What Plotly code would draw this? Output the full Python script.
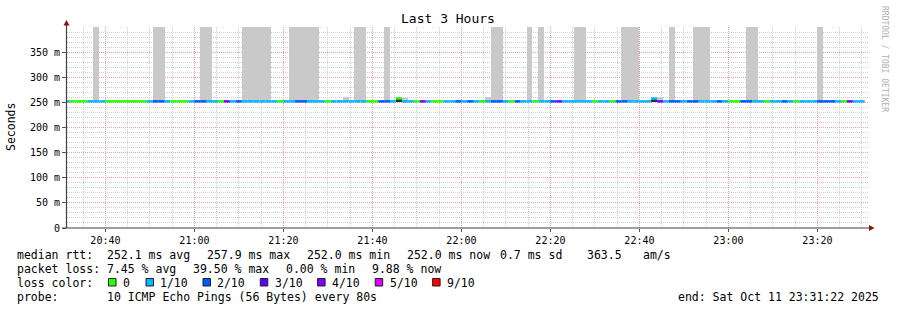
import pandas as pd
import plotly.graph_objects as go

N = None
# ---------------- data ----------------
step_start = "2025-10-11 20:30:38"   # start of first (partially visible) 80 s step
step_len_s = 80
range_start = "2025-10-11 20:31:22"
range_end = "2025-10-11 23:31:22"

# lost pings (of 10) per 80 s step
loss = [
    1, 0, 0, 0, 1, 1, 1, 0, 0, 0,
    0, 0, 0, 0, 1, 2, 2, 1, 0, 0,
    0, 1, 2, 2, 1, 1, 0, 4, 1, 2,
    1, 1, 1, 1, 1, 1, 0, 1, 1, 2,
    2, 1, 1, 1, 0, 1, 1, 1, 1, 1,
    1, 0, 0, 2, 2, 1, 0, 1, 1, 0,
    4, 1, 0, 0, 1, 1, 2, 1, 2, 1,
    0, 1, 2, 2, 1, 0, 2, 1, 1, 0,
    1, 1, 2, 4, 1, 1, 1, 1, 1, 0,
    1, 1, 0, 2, 2, 1, 1, 1, 1, 1,
    4, 1, 2, 2, 1, 2, 2, 1, 1, 1,
    2, 1, 0, 0, 2, 2, 1, 1, 0, 1,
    1, 2, 1, 0, 1, 1, 1, 2, 2, 2,
    1, 0, 4, 1, 1,
]

# median rtt per step (ms)
median_ms = [
    252.0, 252.0, 252.0, 252.0, 252.0, 252.0, 252.0, 252.0, 252.0, 252.0,
    252.0, 252.0, 252.0, 252.0, 252.0, 252.0, 252.0, 252.0, 252.0, 252.0,
    252.0, 252.0, 252.0, 252.0, 252.0, 252.0, 252.0, 252.0, 252.0, 252.0,
    252.0, 252.0, 252.0, 252.0, 252.0, 252.0, 252.0, 252.0, 252.0, 252.0,
    252.0, 252.0, 252.0, 252.0, 252.0, 252.0, 252.0, 252.0, 252.0, 252.0,
    252.0, 252.0, 252.0, 252.0, 252.0, 252.0, 257.9, 252.0, 252.0, 252.0,
    252.0, 252.0, 252.0, 252.0, 252.0, 252.0, 252.0, 252.0, 252.0, 252.0,
    252.0, 252.0, 252.0, 252.0, 252.0, 252.0, 252.0, 252.0, 252.0, 252.0,
    252.0, 252.0, 252.0, 252.0, 252.0, 252.0, 252.0, 252.0, 252.0, 252.0,
    252.0, 252.0, 252.0, 252.0, 252.0, 252.0, 252.0, 252.0, 252.0, 257.6,
    252.0, 252.0, 252.0, 252.0, 252.0, 252.0, 252.0, 252.0, 252.0, 252.0,
    252.0, 252.0, 252.0, 252.0, 252.0, 252.0, 252.0, 252.0, 252.0, 252.0,
    252.0, 252.0, 252.0, 252.0, 252.0, 252.0, 252.0, 252.0, 252.0, 252.0,
    252.0, 252.0, 252.0, 252.0, 252.0,
]

# highest ping of each step (ms), "smoke" top; None = no visible smoke
smoke_hi_ms = [
    N, N, N, N, N, 430, N, N, N, N,
    N, N, N, N, N, 430, 430, N, N, N,
    N, N, N, 430, 430, N, N, N, N, N,
    430, 430, 430, 430, 430, N, N, N, 430, 430,
    430, 430, 430, N, N, N, N, 260, N, 430,
    430, N, N, N, 430, N, N, 258, N, N,
    N, N, N, N, N, N, N, N, N, N,
    N, 260, 430, 430, N, N, N, N, 430, N,
    430, N, N, N, N, N, 430, 430, N, N,
    N, N, N, N, 430, 430, 430, N, N, N,
    260, N, 430, N, N, N, 430, 430, 430, N,
    N, N, N, N, N, 430, 430, N, N, N,
    N, N, N, N, N, N, N, 430, N, N,
    N, N, N, N, N,
]
# dense smoke (many pings) below the two median spikes
dense_hi_ms = [
    N, N, N, N, N, N, N, N, N, N,
    N, N, N, N, N, N, N, N, N, N,
    N, N, N, N, N, N, N, N, N, N,
    N, N, N, N, N, N, N, N, N, N,
    N, N, N, N, N, N, N, N, N, N,
    N, N, N, N, N, N, 256, N, N, N,
    N, N, N, N, N, N, N, N, N, N,
    N, N, N, N, N, N, N, N, N, N,
    N, N, N, N, N, N, N, N, N, N,
    N, N, N, N, N, N, N, N, N, 256,
    N, N, N, N, N, N, N, N, N, N,
    N, N, N, N, N, N, N, N, N, N,
    N, N, N, N, N, N, N, N, N, N,
    N, N, N, N, N,
]
ping_min_ms = 251.5

loss_counts = [0, 1, 2, 3, 4, 5, 9]
loss_labels = ["0", "1/10", "2/10", "3/10", "4/10", "5/10", "9/10"]
loss_colors = ["#26ff00", "#00b8ff", "#0059ff", "#5e00ff", "#7e00ff", "#dd00ff", "#ff0000"]

y_tick_vals = [0, 50, 100, 150, 200, 250, 300, 350]
y_tick_text = ["0", "50 m", "100 m", "150 m", "200 m", "250 m", "300 m", "350 m"]
x_tick0 = "2025-10-11 20:40"

title_text = "Last 3 Hours"
y_title = "Seconds"
watermark = "RRDTOOL / TOBI OETIKER"
rtt_label = "median rtt:"
rtt_stats = ["252.1 ms avg", "257.9 ms max", "252.0 ms min", "252.0 ms now",
             "0.7 ms sd", "363.5", "am/s"]
loss_label = "packet loss:"
loss_stats = ["7.45 % avg", "39.50 % max", "0.00 % min", "9.88 % now"]
color_label = "loss color:"
probe_label = "probe:"
probe_text = "10 ICMP Echo Pings (56 Bytes) every 80s"
end_text = "end: Sat Oct 11 23:31:22 2025"

# ---------------- geometry ----------------
W, H = 897, 310
ML, MR, MT, MB = 67, 29, 27, 82
PW, PH = W - ML - MR, H - MT - MB
BOTTOM = H - MB

def ax(px):
    return (px - ML) / PW

def ay(py):
    return (BOTTOM - py) / PH

MONO = "DejaVu Sans Mono"

times = pd.date_range(step_start, periods=len(loss), freq=f"{step_len_s}s")
step_td = pd.Timedelta(seconds=step_len_s)

fig = go.Figure()

# smoke
fig.add_trace(go.Bar(
    x=list(times.to_pydatetime()),
    y=[(h - m) if h is not None else None for h, m in zip(smoke_hi_ms, median_ms)],
    base=median_ms, offset=0, width=step_len_s * 1000,
    marker=dict(color="#c9c9c9", line=dict(width=0)), hoverinfo="skip"))
fig.add_trace(go.Bar(
    x=list(times.to_pydatetime()),
    y=[(h - ping_min_ms) if h is not None else None for h in dense_hi_ms],
    base=ping_min_ms, offset=0, width=step_len_s * 1000,
    marker=dict(color="#303030", line=dict(width=0)), hoverinfo="skip"))

# median line coloured by loss
for cnt, col in zip(loss_counts, loss_colors):
    xs, ys = [], []
    for t, l, m in zip(times, loss, median_ms):
        if l == cnt:
            xs += [t.to_pydatetime(), (t + step_td).to_pydatetime(), None]
            ys += [m, m, None]
    if xs:
        fig.add_trace(go.Scatter(x=xs, y=ys, mode="lines",
                                 line=dict(color=col, width=2.5),
                                 hoverinfo="skip"))

GRID_MINOR = "#cfcfcf"
GRID_MAJOR = "#f0a0a0"
DASH = "1px,1px"

fig.update_layout(
    width=W, height=H,
    margin=dict(l=ML, r=MR, t=MT, b=MB, autoexpand=False),
    paper_bgcolor="white", plot_bgcolor="white",
    showlegend=False, barmode="overlay", bargap=0,
    font=dict(family=MONO, size=10, color="#000"),
    xaxis=dict(
        type="date", range=[range_start, range_end],
        tick0=x_tick0, dtick=20 * 60 * 1000, tickformat="%H:%M",
        showgrid=True, gridcolor=GRID_MAJOR, griddash=DASH, gridwidth=1,
        ticks="outside", ticklen=3, tickcolor="#555",
        tickfont=dict(family=MONO, size=10, color="#000"),
        showline=False, zeroline=False,
        minor=dict(tick0=x_tick0, dtick=5 * 60 * 1000, showgrid=True,
                   gridcolor=GRID_MINOR, griddash=DASH, ticks=""),
    ),
    yaxis=dict(
        range=[0, 400], tickvals=y_tick_vals, ticktext=y_tick_text,
        showgrid=True, gridcolor=GRID_MAJOR, griddash=DASH, gridwidth=1,
        ticks="outside", ticklen=4, tickcolor="#555",
        tickfont=dict(family=MONO, size=10, color="#000"),
        showline=False, zeroline=False,
        minor=dict(tick0=0, dtick=10, showgrid=True,
                   gridcolor=GRID_MINOR, griddash=DASH, ticks=""),
    ),
)

shapes = []
AXIS_C = "#404040"
ARROW_C = "#8b1010"
shapes.append(dict(type="line", xref="paper", yref="paper",
                   x0=ax(66.5), x1=ax(66.5), y0=ay(228), y1=ay(24),
                   line=dict(color=AXIS_C, width=1.2)))
shapes.append(dict(type="line", xref="paper", yref="paper",
                   x0=ax(62), x1=ax(870), y0=ay(228), y1=ay(228),
                   line=dict(color=AXIS_C, width=1.2)))
shapes.append(dict(type="path", xref="paper", yref="paper",
                   path=f"M {ax(66.5)},{ay(20)} L {ax(63.5)},{ay(25.5)} L {ax(69.5)},{ay(25.5)} Z",
                   fillcolor=ARROW_C, line=dict(width=0)))
shapes.append(dict(type="path", xref="paper", yref="paper",
                   path=f"M {ax(874.5)},{ay(228)} L {ax(869)},{ay(225)} L {ax(869)},{ay(231)} Z",
                   fillcolor=ARROW_C, line=dict(width=0)))

ann = []

def text(px, py, s, size=11.5, anchor="left", color="#000", angle=0):
    ann.append(dict(xref="paper", yref="paper", x=ax(px), y=ay(py), text=s,
                    showarrow=False, xanchor=anchor, yanchor="middle",
                    textangle=angle, borderpad=0, borderwidth=0,
                    font=dict(family=MONO, size=size, color=color)))

text(448, 19, title_text, size=13, anchor="center")
text(11, 127, y_title, size=11.5, anchor="center", angle=-90)
text(885, 59, watermark, size=8, anchor="center", color="#b0b0b0", angle=90)

L1, L2, L3, L4 = 254.5, 268.5, 282.5, 296.5
text(16.5, L1, rtt_label)
for px, s in zip([107, 207, 307, 407, 500, 586.5, 642.5], rtt_stats):
    text(px, L1, s)
text(16.5, L2, loss_label)
for px, s in zip([107, 193, 286, 371.5], loss_stats):
    text(px, L2, s)
text(16.5, L3, color_label)
sq_x = [108.5, 146, 203, 260.3, 317.6, 375.2, 432.6]
for px, lab, col in zip(sq_x, loss_labels, loss_colors):
    shapes.append(dict(type="rect", xref="paper", yref="paper",
                       x0=ax(px), x1=ax(px + 7.5), y0=ay(286), y1=ay(278.5),
                       fillcolor=col, line=dict(color="#202020", width=1)))
    text(px + 14.3, L3, lab)
text(16.5, L4, probe_label)
text(107, L4, probe_text)
text(678, L4, end_text)

fig.update_layout(shapes=shapes, annotations=ann)
fig.write_html("out.html")
